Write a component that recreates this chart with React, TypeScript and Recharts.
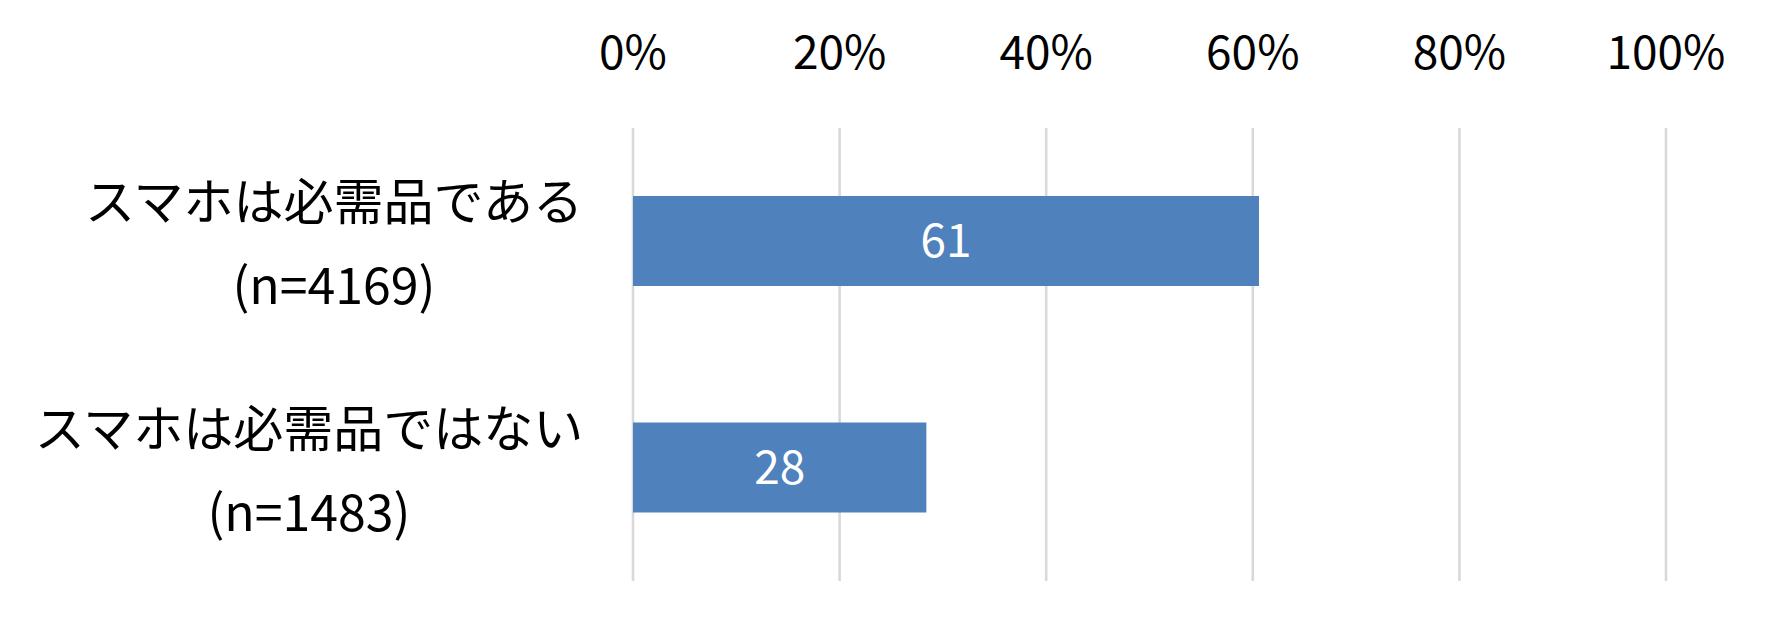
import React from 'react';
import { BarChart, Bar, XAxis, YAxis, CartesianGrid, LabelList } from 'recharts';

const categories = ['スマホは必需品である', 'スマホは必需品ではない'];
const sampleSizes = ['(n=4169)', '(n=1483)'];
const shares = [60.6, 28.4];
const xTicks = [0, 20, 40, 60, 80, 100];

const FONT = '"Noto Sans CJK JP", "Noto Sans", sans-serif';
const LABEL_SIZE = 50;

const data = categories.map((name, i) => ({ name, n: sampleSizes[i], value: shares[i] }));

// two-line category label: block right-aligned, lines centered on each other
function CategoryTick(props: any) {
  const { y, payload, index } = props;
  const line1: string = payload.value;
  const line2: string = sampleSizes[index] ?? '';
  const right = 584;
  const blockWidth = line1.length * LABEL_SIZE;
  const cx = right - blockWidth / 2;
  return (
    <text fontFamily={FONT} fontSize={LABEL_SIZE} fill="#000" textAnchor="middle">
      <tspan x={cx} y={y - 43} dominantBaseline="central">{line1}</tspan>
      <tspan x={cx} y={y + 41} dominantBaseline="central">{line2}</tspan>
    </text>
  );
}

export default function App(): React.JSX.Element {
  return (
    <div style={{ position: 'absolute', left: 0, top: 0, width: 1779, height: 631, background: '#fff' }}>
      <BarChart
        width={1779}
        height={631}
        data={data}
        layout="vertical"
        margin={{ top: 0, right: 113, bottom: 50, left: 0 }}
        barCategoryGap="30%"
      >
        <CartesianGrid horizontal={false} vertical stroke="#D9D9D9" strokeWidth={2.6} />
        <XAxis
          type="number"
          orientation="top"
          domain={[0, 100]}
          ticks={xTicks}
          height={128}
          axisLine={false}
          tickLine={false}
          tickSize={6}
          tickMargin={53}
          interval={0}
          tickFormatter={(v: number) => `${v}%`}
          tick={{ fontFamily: FONT, fontSize: 46, fill: '#000' }}
        />
        <YAxis
          type="category"
          dataKey="name"
          width={633}
          axisLine={false}
          tickLine={false}
          tick={<CategoryTick />}
        />
        <Bar dataKey="value" fill="#4F81BD" barSize={90} isAnimationActive={false}>
          <LabelList
            dataKey="value"
            position="center"
            formatter={(v: any) => Math.round(Number(v))}
            style={{ fontFamily: FONT, fontSize: 46, fill: '#fff' }}
          />
        </Bar>
      </BarChart>
    </div>
  );
}
